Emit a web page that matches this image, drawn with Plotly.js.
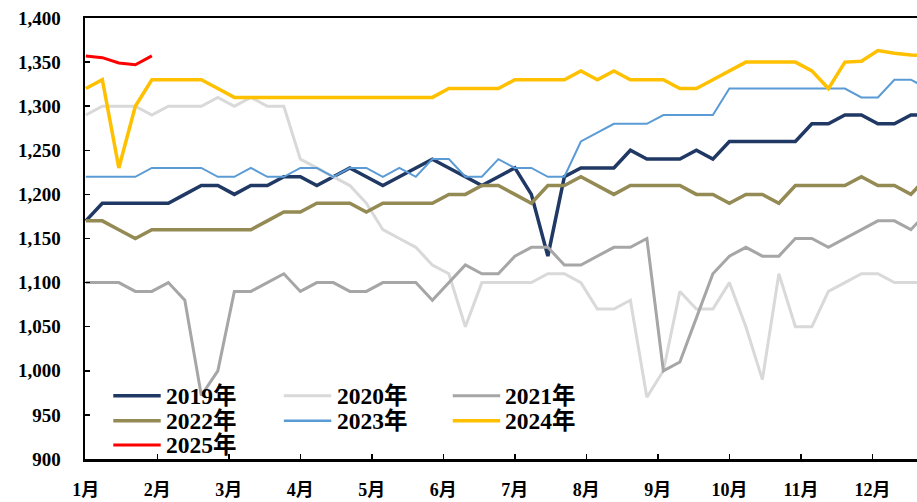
<!DOCTYPE html>
<html>
<head>
<meta charset="utf-8">
<script src="https://cdn.plot.ly/plotly-3.0.1.min.js"></script>
<style>html,body{margin:0;padding:0;background:#fff;}#chart{width:917px;height:502px;}</style>
</head>
<body>
<div id="chart"></div>
<script>
// ---- data (weekly values, week index = array position) ----
const monthLabels = ['1月','2月','3月','4月','5月','6月','7月','8月','9月','10月','11月','12月'];
const seriesNames = ['2019年','2020年','2021年','2022年','2023年','2024年','2025年'];

const y2019 = [1170,1190,1190,1190,1190,1190,1200,1210,1210,1200,1210,1210,1220,1220,1210,1220,1230,1220,1210,1220,1230,1240,1230,1220,1210,1220,1230,1200,1130,1220,1230,1230,1230,1250,1240,1240,1240,1250,1240,1260,1260,1260,1260,1260,1280,1280,1290,1290,1280,1280,1290,1290];
const y2020 = [1290,1300,1300,1300,1290,1300,1300,1300,1310,1300,1310,1300,1300,1240,1230,1220,1210,1190,1160,1150,1140,1120,1110,1050,1100,1100,1100,1100,1110,1110,1100,1070,1070,1080,970,1000,1090,1070,1070,1100,1050,990,1110,1050,1050,1090,1100,1110,1110,1100,1100,1100];
const y2021 = [1100,1100,1100,1090,1090,1100,1080,972,1000,1090,1090,1100,1110,1090,1100,1100,1090,1090,1100,1100,1100,1080,1100,1120,1110,1110,1130,1140,1140,1120,1120,1130,1140,1140,1150,1000,1010,1060,1110,1130,1140,1130,1130,1150,1150,1140,1150,1160,1170,1170,1160,1180];
const y2022 = [1170,1170,1160,1150,1160,1160,1160,1160,1160,1160,1160,1170,1180,1180,1190,1190,1190,1180,1190,1190,1190,1190,1200,1200,1210,1210,1200,1190,1210,1210,1220,1210,1200,1210,1210,1210,1210,1200,1200,1190,1200,1200,1190,1210,1210,1210,1210,1220,1210,1210,1200,1220];
const y2023 = [1220,1220,1220,1220,1230,1230,1230,1230,1220,1220,1230,1220,1220,1230,1230,1220,1230,1230,1220,1230,1220,1240,1240,1220,1220,1240,1230,1230,1220,1220,1260,1270,1280,1280,1280,1290,1290,1290,1290,1320,1320,1320,1320,1320,1320,1320,1320,1310,1310,1330,1330,1320];
const y2024 = [1320,1330,1230,1300,1330,1330,1330,1330,1320,
               1310,1310,1310,1310,1310,1310,1310,1310,1310,1310,1310,1310,1310,
               1320,1320,1320,1320,1330,1330,1330,1330,
               1340,1330,1340,1330,1330,1330,1320,1320,1330,1340,
               1350,1350,1350,1350,1340,1320,1350,1351,1363,1360,1358,1357];
const y2025 = [1357,1355,1349,1347,1357];

// ---- styles ----
const seriesData = [y2019, y2020, y2021, y2022, y2023, y2024, y2025];
const colors = ['#203864','#d9d9d9','#a6a6a6','#948a54','#5b9bd5','#ffc000','#ff0000'];
const widths = [3.5, 3, 3, 3.5, 2, 3.5, 3];

const FONT = '"Liberation Serif", "Noto Sans CJK SC", serif';
const WEEKS_PER_MONTH = 52/12;

const traces = seriesData.map((ys, k) => ({
  type: 'scatter',
  mode: 'lines',
  name: seriesNames[k],
  x: ys.map((_, i) => i),
  y: ys,
  line: {color: colors[k], width: widths[k]},
  showlegend: false,
  hoverinfo: 'skip'
}));

// custom legend (3 columns)
const legCols = [0.034, 0.239, 0.442];
const legRows = [0.1435, 0.0868, 0.0317];
const shapes = [];
const annotations = [];
seriesNames.forEach((nm, k) => {
  const c = k % 3, r = Math.floor(k / 3);
  const x0 = legCols[c], x1 = x0 + 0.057, y = legRows[r];
  shapes.push({type:'line', xref:'paper', yref:'paper', x0:x0, x1:x1, y0:y, y1:y,
               line:{color: colors[k], width: Math.max(widths[k], 2.5)}});
  annotations.push({xref:'paper', yref:'paper', x: x1 + 0.004, y: y, xanchor:'left', yanchor:'middle',
                    text: nm, showarrow:false,
                    font:{family: FONT, size: 23.5, color:'#000', weight:'bold'}});
});

const layout = {
  width: 917, height: 502,
  margin: {l: 85, r: 0, t: 18, b: 43, pad: 0},
  paper_bgcolor: '#fff', plot_bgcolor: '#fff',
  showlegend: false,
  xaxis: {
    range: [-0.05, 50.37],
    tickvals: monthLabels.map((_, m) => m * WEEKS_PER_MONTH),
    ticktext: monthLabels,
    ticks: 'inside', ticklen: 5, tickwidth: 1.5, tickcolor: '#000',
    showline: true, linecolor: '#000', linewidth: 2.5, mirror: true,
    showgrid: false, zeroline: false,
    ticklabelstandoff: 13,
    tickfont: {family: FONT, size: 18, color: '#000', weight: 'bold'}
  },
  yaxis: {
    range: [900, 1400],
    dtick: 50, tick0: 900,
    tickformat: ',',
    ticks: 'inside', ticklen: 5, tickwidth: 1.5, tickcolor: '#000',
    showline: true, linecolor: '#000', linewidth: 2.5,
    showgrid: false, zeroline: false,
    ticklabelstandoff: 18,
    tickfont: {family: FONT, size: 19, color: '#000', weight: 'bold'}
  },
  shapes: shapes,
  annotations: annotations
};

Plotly.newPlot('chart', traces, layout, {staticPlot: true, displayModeBar: false});
</script>
</body>
</html>
